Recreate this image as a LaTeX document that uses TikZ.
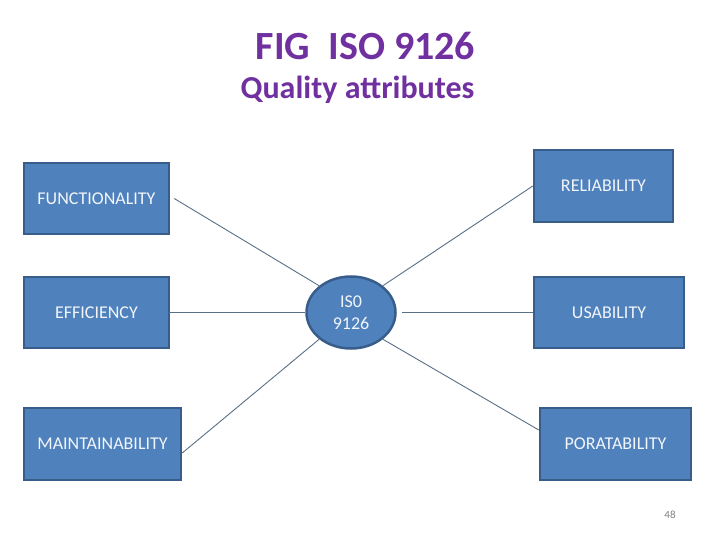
\documentclass[tikz,border=0pt]{standalone}
\usepackage{fontspec}
\setmainfont{Carlito}
\usetikzlibrary{shapes.geometric}
\definecolor{boxfill}{HTML}{4F81BD}
\definecolor{boxline}{HTML}{385D8A}
\definecolor{titlecol}{HTML}{7030A0}
\definecolor{conn}{HTML}{5A6F86}
\definecolor{boxtext}{HTML}{F2F5FA}
\tikzset{
  attrbox/.style={rectangle, draw=boxline, fill=boxfill, line width=2.5pt, inner sep=0pt,
    text=boxtext, font=\fontsize{18}{20}\selectfont},
  centre/.style={ellipse, draw=boxline, fill=boxfill, line width=2.5pt, inner sep=0pt,
    text=boxtext, font=\fontsize{18}{22}\selectfont, align=center},
  link/.style={draw=conn, line width=0.9pt},
}
\begin{document}
\begin{tikzpicture}[x=1pt,y=-1pt]
\useasboundingbox (0,0) rectangle (720,540);
\node[anchor=base, text=titlecol, font=\fontsize{40}{44}\selectfont\bfseries] (t1) at (365.5,60) {FIG\ \ ISO 9126};
\node[anchor=base, text=titlecol, font=\fontsize{32}{36}\selectfont\bfseries] (t2) at (357.5,99) {Quality attributes};

\node[attrbox, minimum width=145pt, minimum height=71pt] (func) at (96.5,198.5) {FUNCTIONALITY};
\node[attrbox, minimum width=145pt, minimum height=71pt] (eff) at (96.5,312.5) {EFFICIENCY};
\node[attrbox, minimum width=157pt, minimum height=72pt] (maint) at (102.5,444) {MAINTAINABILITY};
\node[attrbox, minimum width=139pt, minimum height=72pt] (rel) at (603.5,186) {RELIABILITY};
\node[attrbox, minimum width=150pt, minimum height=71pt] (usab) at (609,312.5) {USABILITY};
\node[attrbox, minimum width=151pt, minimum height=72pt] (porat) at (615.5,444) {PORATABILITY};

\node[centre, minimum width=89pt, minimum height=72pt] (iso) at (351,312.5) {IS0\\9126};

\draw[link] ([xshift=4pt]func.east) -- (iso.140);
\draw[link] (iso.40) -- (rel.west);
\draw[link] ([xshift=-1pt]eff.east) -- (iso.west);
\draw[link] ([xshift=5pt]iso.east) -- (usab.west);
\draw[link] (iso.220) -- ([yshift=-9pt]maint.east);
\draw[link] (iso.320) -- ([yshift=14pt]porat.west);

\node[text=gray, font=\fontsize{11}{13}\selectfont] (pg) at (670,515) {48};
\end{tikzpicture}
\end{document}
